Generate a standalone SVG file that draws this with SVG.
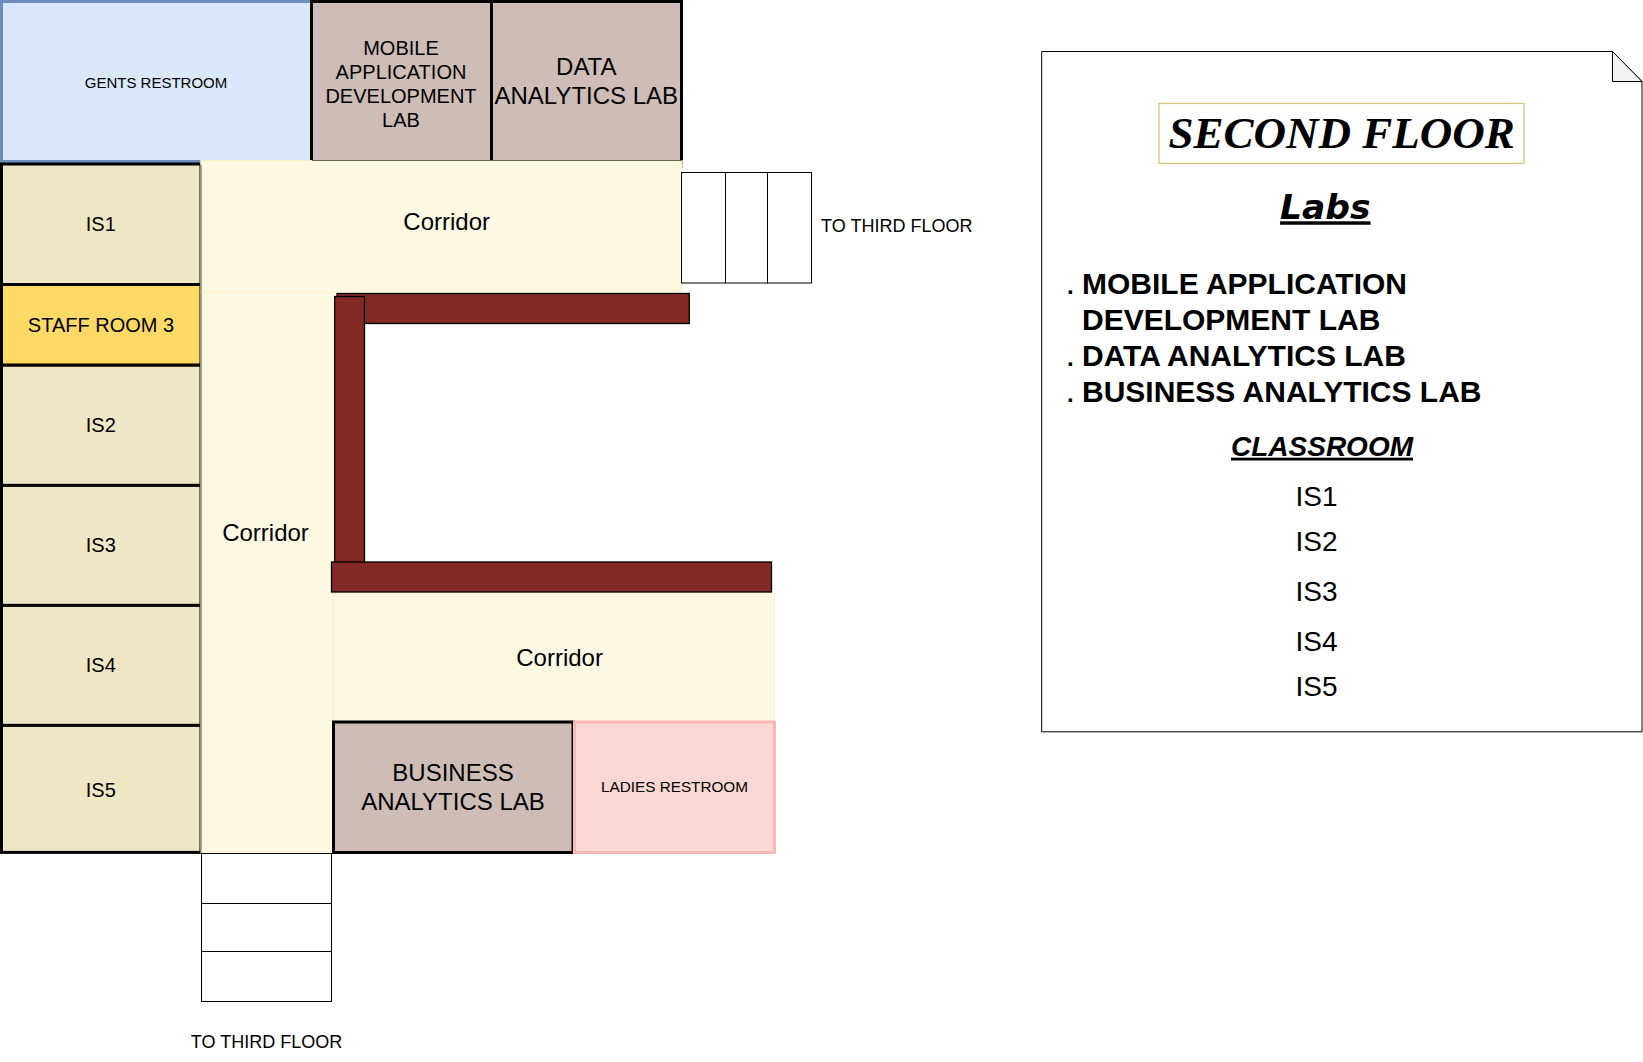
<svg xmlns="http://www.w3.org/2000/svg" width="1643" height="1062" viewBox="0 0 1643 1062">
<style>
text{font-family:"Liberation Sans",Arial,sans-serif;fill:#000;text-anchor:middle}
.is{fill:#efe6c6;stroke:#000;stroke-width:3}
.lab{fill:#cdbdb6;stroke:#000;stroke-width:3}
.cor{fill:#fff8e3;stroke:#fff3cf;stroke-width:1.5}
.wall{fill:#832a26;stroke:#000;stroke-width:1.3}
.st{fill:#fff;stroke:#000;stroke-width:1}
.t20{font-size:20px}.t24{font-size:24px}.t15{font-size:15.3px}.t18{font-size:18px}
.li{font-size:30px;font-weight:bold;text-anchor:start}
.dot{font-size:24px;font-weight:bold;text-anchor:start}
.cl{font-size:28px;text-anchor:start}
</style>
<rect width="1643" height="1062" fill="#fff"/>
<g id="gents-restroom"><rect x="1.5" y="1.5" width="310" height="160" fill="#dae8fc" stroke="#6c8ebf" stroke-width="3"/><text x="156" y="88.3" style="font-size:15px">GENTS RESTROOM</text></g>
<g id="mobile-lab"><rect class="lab" x="311.5" y="1.5" width="180" height="165"/><text class="t20"><tspan x="401" y="55">MOBILE</tspan><tspan x="401" y="79">APPLICATION</tspan><tspan x="401" y="103">DEVELOPMENT</tspan><tspan x="401" y="127">LAB</tspan></text></g>
<g id="data-lab"><rect class="lab" x="491.5" y="1.5" width="190" height="165"/><text class="t24"><tspan x="586.3" y="75">DATA</tspan><tspan x="586.3" y="103.7">ANALYTICS LAB</tspan></text></g>
<g id="is1"><rect class="is" x="1.5" y="164" width="199.5" height="120.5"/><text class="t20" x="100.8" y="230.7">IS1</text></g>
<g id="is2"><rect class="is" x="1.5" y="365" width="199.5" height="120.4"/><text class="t20" x="100.8" y="432">IS2</text></g>
<g id="is3"><rect class="is" x="1.5" y="485.4" width="199.5" height="120"/><text class="t20" x="100.8" y="552">IS3</text></g>
<g id="is4"><rect class="is" x="1.5" y="605.4" width="199.5" height="120"/><text class="t20" x="100.8" y="672">IS4</text></g>
<g id="is5"><rect class="is" x="1.5" y="725.4" width="199.5" height="127"/><text class="t20" x="100.8" y="796.5">IS5</text></g>
<g id="staff-room-3"><rect x="1.5" y="284.5" width="199.5" height="80.5" fill="#ffd966" stroke="#000" stroke-width="3"/><text class="t20" x="101" y="332">STAFF ROOM 3</text></g>
<g id="corridor-top"><rect class="cor" x="201" y="160.8" width="481" height="131.7"/><text class="t24" x="446.7" y="229.8">Corridor</text></g>
<g id="corridor-left"><rect class="cor" x="201" y="292.5" width="132" height="559.5"/><text class="t24" x="265.5" y="541">Corridor</text></g>
<g id="corridor-bottom"><rect class="cor" x="333.5" y="592.5" width="441" height="129.5"/><text class="t24" x="559.6" y="666">Corridor</text></g>
<g id="trim"><path d="M201 165V852M312 160.5H682" fill="none" stroke="#6b654f" stroke-width="1"/></g>
<g id="business-lab"><rect class="lab" x="333.5" y="722" width="239.5" height="130.5"/><text class="t24"><tspan x="453" y="780.7">BUSINESS</tspan><tspan x="453" y="809.7">ANALYTICS LAB</tspan></text></g>
<g id="ladies-restroom"><rect x="574.5" y="722" width="200" height="130.5" fill="#fad7d3" stroke="#f8b9b5" stroke-width="3"/><text class="t15" x="674.5" y="792.4">LADIES RESTROOM</text></g>
<g id="walls"><rect class="wall" x="337" y="293.5" width="352.3" height="30"/><rect class="wall" x="334.7" y="296.5" width="29.8" height="266"/><rect class="wall" x="331.5" y="562" width="440" height="30"/></g>
<g id="stairs-right"><rect class="st" x="681.5" y="172.5" width="44" height="110.5"/><rect class="st" x="725.5" y="172.5" width="42" height="110.5"/><rect class="st" x="767.5" y="172.5" width="44" height="110.5"/><text class="t18" x="896.8" y="232.2">TO THIRD FLOOR</text></g>
<g id="stairs-bottom"><rect class="st" x="201.5" y="853.5" width="130" height="50"/><rect class="st" x="201.5" y="903.5" width="130" height="48"/><rect class="st" x="201.5" y="951.5" width="130" height="50"/><text class="t18" x="266.5" y="1047.8">TO THIRD FLOOR</text></g>
<g id="legend">
<path d="M1041.7 51.5H1612.5L1642 81.5V731.8H1041.7Z" fill="#fff" stroke="#000" stroke-width="1"/>
<path d="M1612.5 51.5L1642 81.5H1612.5Z" fill="#f2f2f2" stroke="#000" stroke-width="1"/>
<rect x="1159" y="103.5" width="365" height="60" fill="#fff" stroke="#dcc27a" stroke-width="1.3"/>
<text x="1341.6" y="148" style="font-family:'Liberation Serif',serif;font-size:45px;font-weight:bold;font-style:italic">SECOND FLOOR</text>
<text x="1325.3" y="219.3" style="font-family:'DejaVu Sans',sans-serif;font-size:34.5px;font-weight:bold;font-style:italic;text-decoration:underline">Labs</text>
<text class="dot" x="1067" y="293.8">.</text><text class="li" x="1082" y="293.8">MOBILE APPLICATION</text>
<text class="li" x="1082" y="329.8">DEVELOPMENT LAB</text>
<text class="dot" x="1067" y="365.8">.</text><text class="li" x="1082" y="365.8">DATA ANALYTICS LAB</text>
<text class="dot" x="1067" y="401.8">.</text><text class="li" x="1082" y="401.8">BUSINESS ANALYTICS LAB</text>
<text x="1322" y="455.7" style="font-size:28px;font-weight:bold;font-style:italic;text-decoration:underline">CLASSROOM</text>
<text class="cl" x="1295.5" y="506">IS1</text>
<text class="cl" x="1295.5" y="551">IS2</text>
<text class="cl" x="1295.5" y="601">IS3</text>
<text class="cl" x="1295.5" y="650.7">IS4</text>
<text class="cl" x="1295.5" y="696">IS5</text>
</g>
</svg>
